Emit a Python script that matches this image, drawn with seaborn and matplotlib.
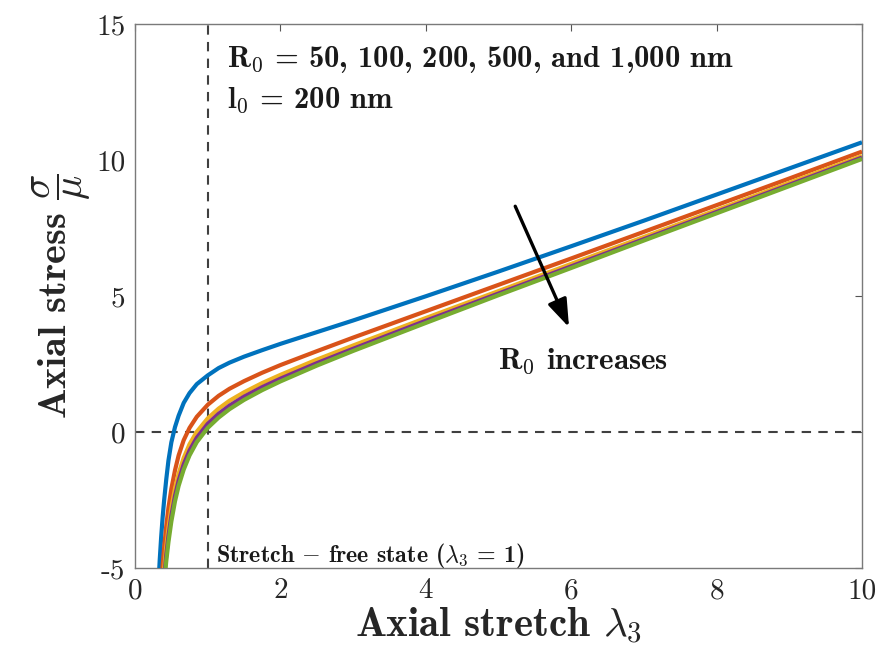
import matplotlib
matplotlib.use("Agg")
import matplotlib.pyplot as plt
import numpy as np
import pandas as pd
import seaborn as sns

# ---- data ----
stretch = [0.30, 0.32, 0.34, 0.36, 0.38, 0.40, 0.43, 0.46, 0.50, 0.55, 0.60, 0.67, 0.75, 0.85,
           1.0, 1.15, 1.3, 1.5, 1.75, 2, 2.5, 3, 4, 5, 6, 7, 8, 9, 10]
stress_R50 = [-6.98, -5.73, -4.71, -3.86, -3.14, -2.53, -1.74, -1.05, -0.38, 0.18, 0.60, 1.07, 1.43, 1.76,
              2.08, 2.35, 2.55, 2.77, 3.01, 3.24, 3.67, 4.10, 4.99, 5.90, 6.83, 7.77, 8.73, 9.69, 10.65]
stress_R100 = [-8.99, -7.68, -6.60, -5.69, -4.92, -4.27, -3.45, -2.79, -2.09, -1.41, -0.86, -0.30, 0.15, 0.56,
               1.00, 1.33, 1.59, 1.87, 2.18, 2.46, 2.97, 3.47, 4.44, 5.41, 6.38, 7.36, 8.34, 9.32, 10.31]
stress_R200 = [-9.90, -8.56, -7.45, -6.52, -5.73, -5.06, -4.22, -3.53, -2.79, -2.08, -1.53, -0.95, -0.45, 0.01,
               0.50, 0.86, 1.15, 1.46, 1.80, 2.10, 2.66, 3.18, 4.19, 5.18, 6.18, 7.17, 8.16, 9.16, 10.15]
stress_R500 = [-10.26, -8.92, -7.80, -6.86, -6.06, -5.38, -4.52, -3.82, -3.08, -2.35, -1.79, -1.19, -0.68, -0.21,
               0.30, 0.67, 0.97, 1.30, 1.65, 1.96, 2.53, 3.06, 4.09, 5.09, 6.09, 7.09, 8.09, 9.09, 10.09]
stress_R1000 = [-10.54, -9.18, -8.05, -7.11, -6.30, -5.61, -4.75, -4.05, -3.29, -2.55, -1.98, -1.38, -0.86, -0.37,
                0.15, 0.53, 0.84, 1.18, 1.54, 1.86, 2.44, 2.98, 4.01, 5.03, 6.03, 7.04, 8.04, 9.04, 10.04]
radii = ["50", "100", "200", "500", "1000"]
x_ticks = [0, 2, 4, 6, 8, 10]
x_tick_labels = ["0", "2", "4", "6", "8", "10"]
y_ticks = [-5, 0, 5, 10, 15]
y_tick_labels = ["-5", "0", "5", "10", "15"]

series = [stress_R50, stress_R100, stress_R200, stress_R500, stress_R1000]
df = pd.concat([pd.DataFrame({"stretch": stretch, "stress": s, "R0": r}) for r, s in zip(radii, series)],
               ignore_index=True)

sns.set_style("white")
plt.rcParams["mathtext.fontset"] = "cm"
plt.rcParams["font.family"] = ["cmr10", "DejaVu Serif"]
plt.rcParams["axes.formatter.use_mathtext"] = True
plt.rcParams["axes.unicode_minus"] = False

palette = ["#0072BD", "#D95319", "#EDB120", "#7E2F8E", "#77AC30"]
BOLD = ["cmb10", "DejaVu Serif"]
TXT = "#1a1a1a"

fig = plt.figure(figsize=(8.83, 6.61), dpi=100)
ax = fig.add_axes([135 / 883, 1 - 568 / 661, (862 - 135) / 883, (568 - 24) / 661])

ax.axvline(1, color="#404040", lw=1.5, ls=(0, (4.5, 3.5)), zorder=1)
ax.axhline(0, color="#404040", lw=1.5, ls=(0, (4.5, 3.5)), zorder=1)

sns.lineplot(data=df, x="stretch", y="stress", hue="R0", hue_order=radii, palette=palette,
             estimator=None, sort=False, lw=3.0, legend=False, ax=ax, zorder=3)
for ln in ax.get_lines():
    ln.set_solid_joinstyle("round")
    ln.set_solid_capstyle("butt")

ax.set_xlim(0, 10)
ax.set_ylim(-5, 15)
ax.set_xticks(x_ticks)
ax.set_xticklabels(x_tick_labels)
ax.set_yticks(y_ticks)
ax.set_yticklabels(y_tick_labels)
ax.tick_params(direction="in", length=5, width=0.8, color="#555555", labelsize=21,
               top=True, right=True, pad=7, labelcolor="#262626")
for sp in ax.spines.values():
    sp.set_color("#7a7a7a")
    sp.set_linewidth(1.0)
    sp.set_visible(True)

ax.set_xlabel(r"Axial stretch $\lambda_3$", fontsize=29.5, family=BOLD, labelpad=1, color="#262626")
ax.set_ylabel(r"Axial stress $\dfrac{\sigma}{\mu}$", fontsize=29, family=BOLD, labelpad=2, color="#262626")

ax.text(1.27, 13.7, r"R$_0$ = 50, 100, 200, 500, and 1,000 nm", fontsize=22, family=BOLD,
        ha="left", va="center", color=TXT)
ax.text(1.27, 12.2, r"l$_0$ = 200 nm", fontsize=22, family=BOLD, ha="left", va="center", color=TXT)
ax.text(5.0, 2.6, r"R$_0$ increases", fontsize=22.3, family=BOLD, ha="left", va="center", color=TXT)
ax.text(1.12, -4.55, r"Stretch $-$ free state ($\lambda_3$ = 1)", fontsize=17.3, family=BOLD,
        ha="left", va="center", color=TXT)

ax.annotate("", xy=(5.97, 3.85), xytext=(5.23, 8.3),
            arrowprops=dict(arrowstyle="-|>,head_length=1.7,head_width=0.6", color="black", lw=2.4,
                            shrinkA=0, shrinkB=0), zorder=5)

fig.savefig("out.png", dpi=100)
